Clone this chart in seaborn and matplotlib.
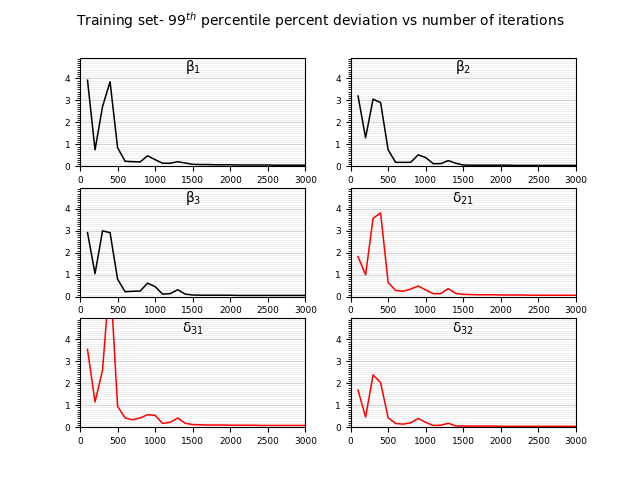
import numpy as np
import pandas as pd
import seaborn as sns
import matplotlib.pyplot as plt
from matplotlib.ticker import MultipleLocator

# iterations (x) 100..3000
iteracoes = list(range(100, 3100, 100))

beta1 = [3.92, 0.75, 2.72, 3.85, 0.85, 0.23, 0.21, 0.20, 0.48, 0.30,
         0.14, 0.14, 0.21, 0.15, 0.09, 0.08, 0.08, 0.07, 0.07, 0.07,
         0.06, 0.06, 0.06, 0.06, 0.06, 0.05, 0.05, 0.05, 0.05, 0.05]
beta2 = [3.20, 1.30, 3.06, 2.90, 0.75, 0.18, 0.18, 0.18, 0.52, 0.40,
         0.12, 0.12, 0.26, 0.14, 0.06, 0.05, 0.05, 0.05, 0.05, 0.05,
         0.05, 0.04, 0.04, 0.04, 0.04, 0.04, 0.04, 0.04, 0.04, 0.04]
beta3 = [2.92, 1.05, 3.00, 2.92, 0.80, 0.23, 0.25, 0.26, 0.62, 0.46,
         0.12, 0.14, 0.32, 0.12, 0.08, 0.07, 0.07, 0.07, 0.07, 0.07,
         0.06, 0.06, 0.06, 0.06, 0.06, 0.06, 0.06, 0.06, 0.06, 0.06]
delta21 = [1.82, 1.00, 3.57, 3.82, 0.65, 0.29, 0.25, 0.35, 0.49, 0.31,
           0.14, 0.14, 0.37, 0.15, 0.11, 0.10, 0.09, 0.09, 0.09, 0.08,
           0.08, 0.08, 0.08, 0.07, 0.07, 0.07, 0.07, 0.07, 0.07, 0.07]
delta31 = [3.54, 1.15, 2.60, 7.00, 0.95, 0.42, 0.34, 0.42, 0.57, 0.54,
           0.17, 0.22, 0.42, 0.18, 0.12, 0.11, 0.10, 0.10, 0.10, 0.09,
           0.09, 0.09, 0.09, 0.08, 0.08, 0.08, 0.08, 0.08, 0.08, 0.08]
delta32 = [1.69, 0.46, 2.38, 2.03, 0.43, 0.17, 0.14, 0.20, 0.40, 0.22,
           0.08, 0.09, 0.18, 0.06, 0.05, 0.05, 0.05, 0.05, 0.05, 0.04,
           0.04, 0.04, 0.04, 0.04, 0.04, 0.04, 0.04, 0.04, 0.04, 0.04]

titulos = ['β$_{1}$', 'β$_{2}$', 'β$_{3}$', 'δ$_{21}$', 'δ$_{31}$', 'δ$_{32}$']
series = [beta1, beta2, beta3, delta21, delta31, delta32]
cores = ['black', 'black', 'black', 'red', 'red', 'red']

fig, axes = plt.subplots(3, 2, figsize=(6.4, 4.8), dpi=100)
fig.suptitle(r'Training set- 99$^{th}$ percentile percent deviation vs number of iterations', fontsize=10)

for ax, titulo, valores, cor in zip(axes.flat, titulos, series, cores):
    df = pd.DataFrame({'iter': iteracoes, 'dev': valores})
    sns.lineplot(data=df, x='iter', y='dev', color=cor, linewidth=1.1, ax=ax)
    ax.set_xlim(0, 3000)
    ax.set_ylim(0, 4.95)
    ax.xaxis.set_major_locator(MultipleLocator(500))
    ax.yaxis.set_major_locator(MultipleLocator(1))
    ax.yaxis.set_minor_locator(MultipleLocator(0.1))
    ax.grid(axis='y', which='major', color='#d2d2d2', linewidth=0.8)
    ax.grid(axis='y', which='minor', color='#ebebeb', linewidth=0.6)
    ax.set_axisbelow(True)
    ax.tick_params(labelsize=6.5)
    ax.set_xlabel('')
    ax.set_ylabel('')
    ax.text(0.5, 0.83, titulo, ha='center', va='bottom', fontsize=10, transform=ax.transAxes)

fig.savefig('out.png', dpi=100)
